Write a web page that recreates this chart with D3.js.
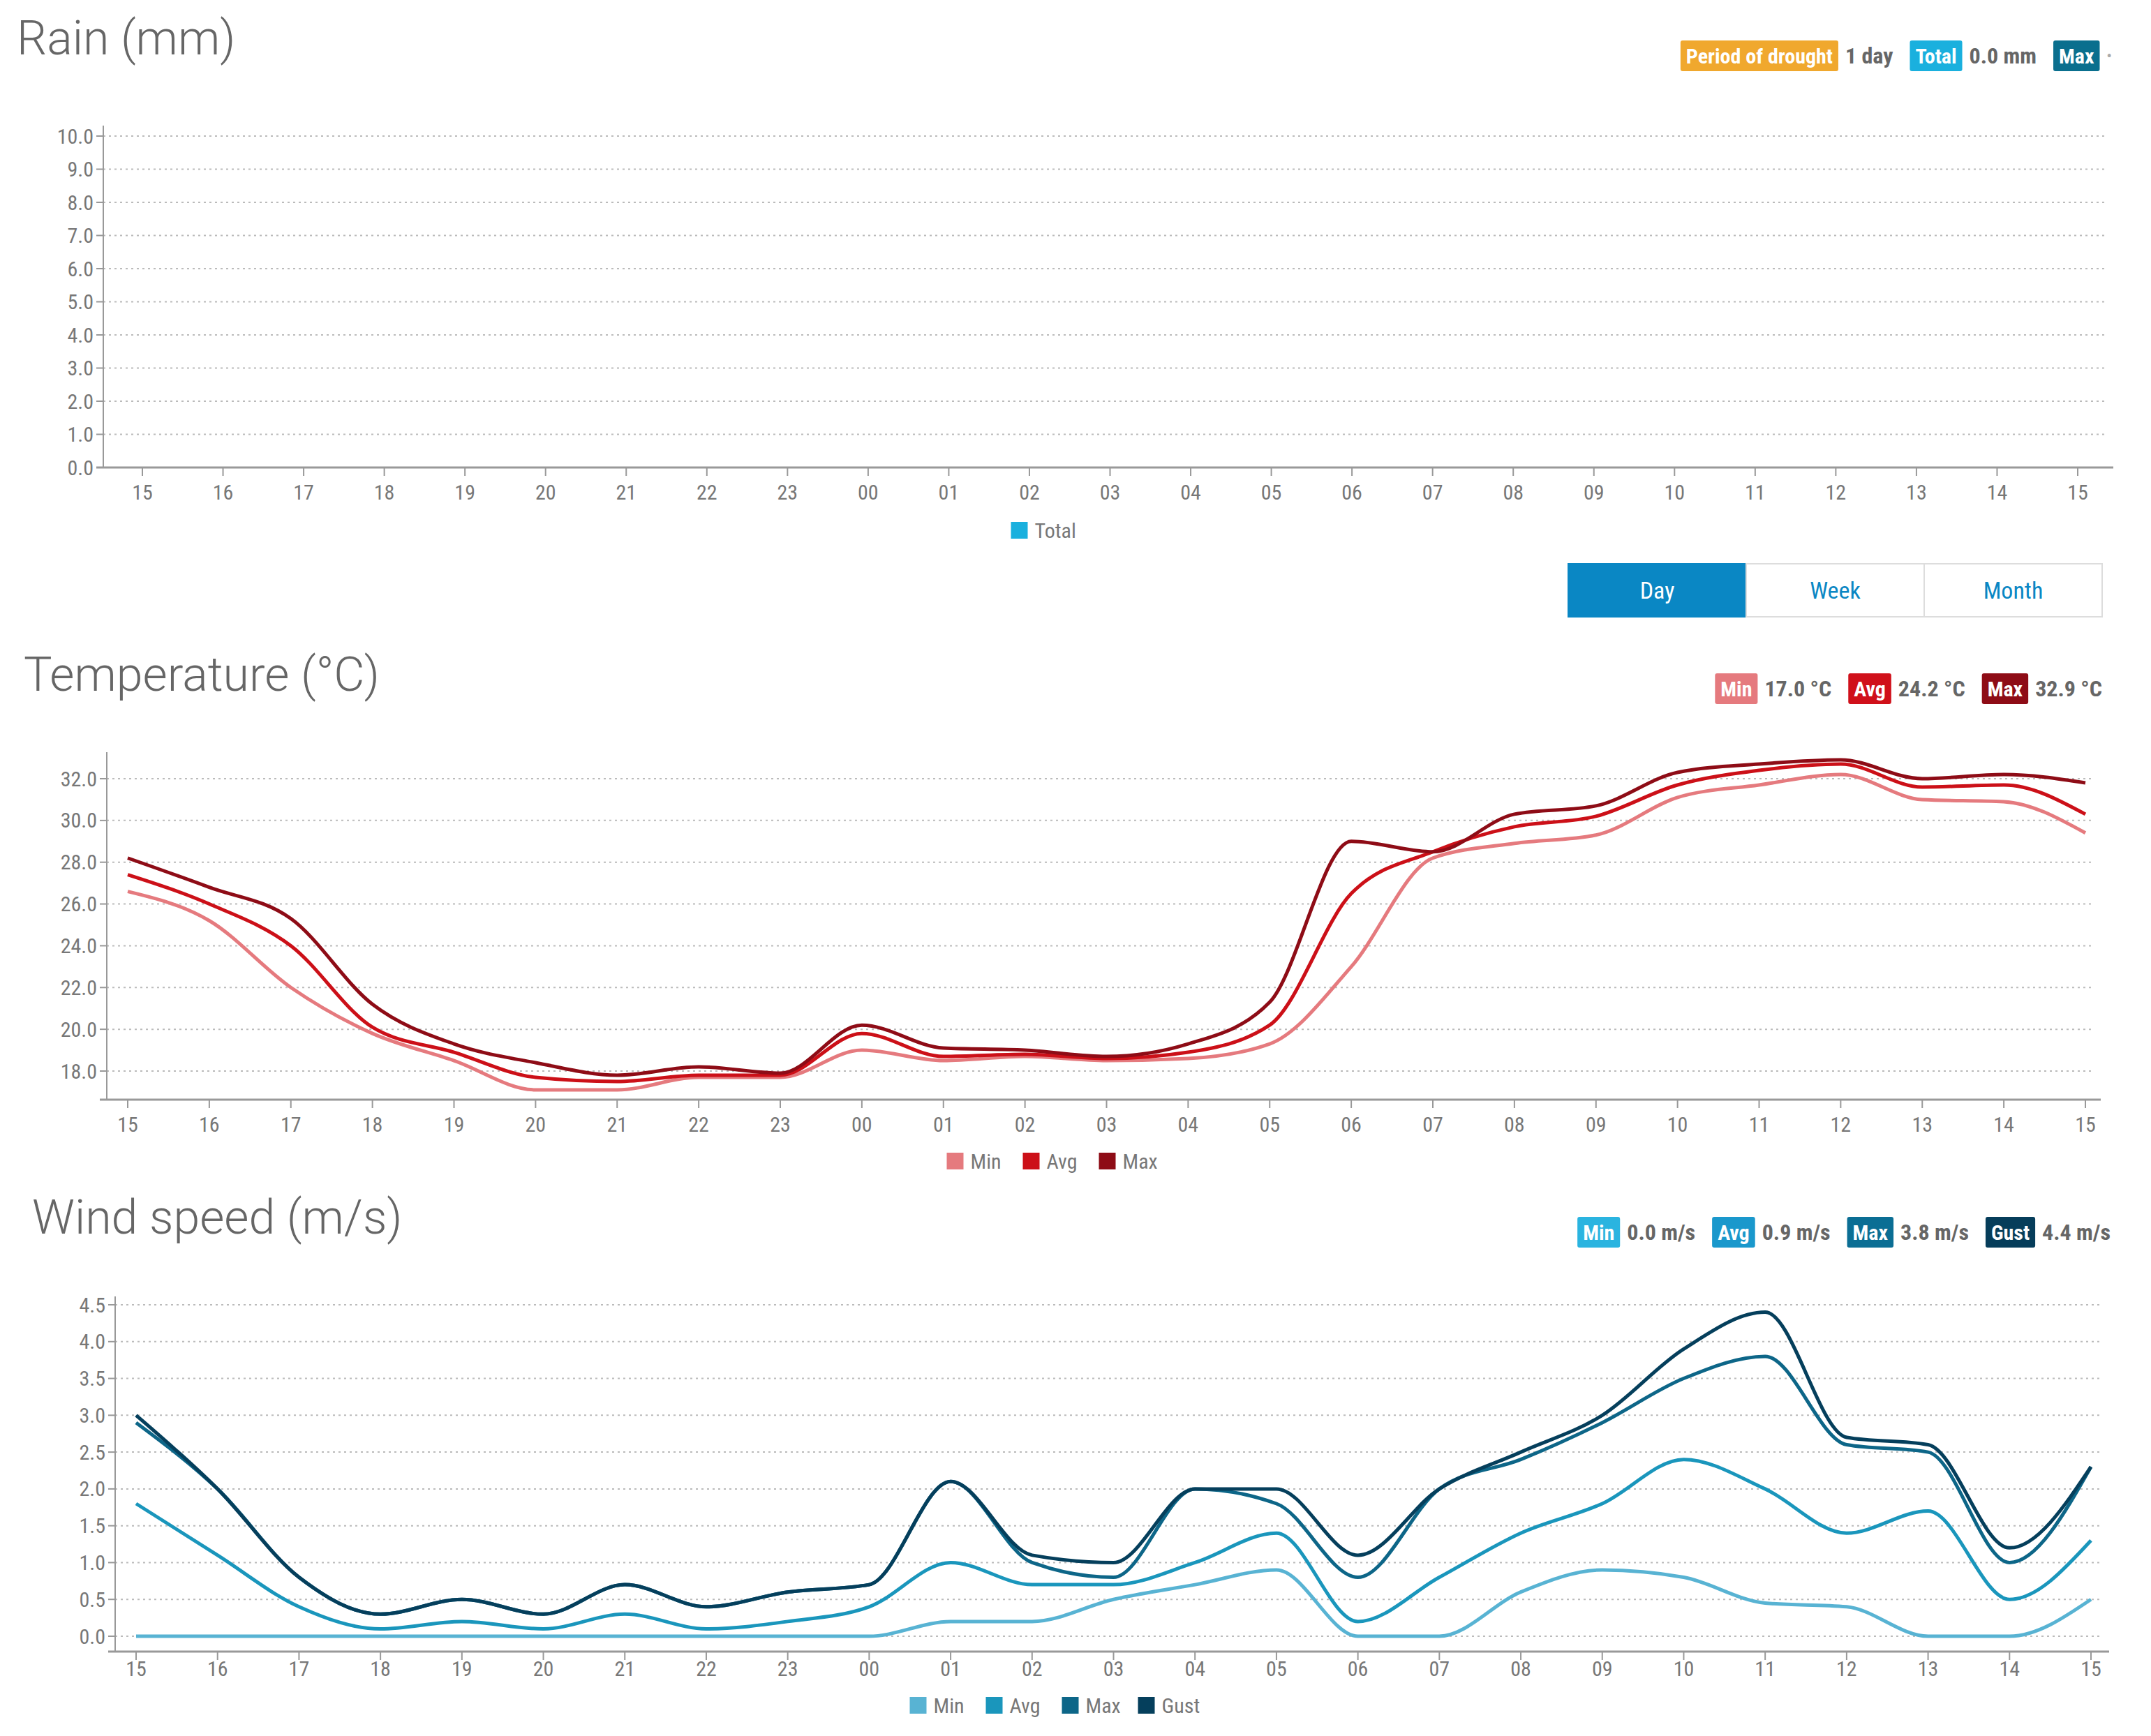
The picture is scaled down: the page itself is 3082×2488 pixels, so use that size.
<!DOCTYPE html>
<html><head><meta charset="utf-8">
<script src="https://cdn.jsdelivr.net/npm/d3@7"></script>
<style>
body{margin:0;background:#fff;}
text{font-family:"Liberation Sans Narrow","Roboto Condensed",Roboto,sans-serif;}
.title{font-family:Roboto,sans-serif;font-weight:300;fill:#666;font-size:68px;}
</style></head><body>
<svg id="chart" width="3082" height="2488"></svg>
<script>
// hours along the x axis (15:00 to 15:00 next day)
const hours = ["15","16","17","18","19","20","21","22","23","00","01","02","03","04","05","06","07","08","09","10","11","12","13","14","15"];

const rainTicks = [0,1,2,3,4,5,6,7,8,9,10];
const tempTicks = [18,20,22,24,26,28,30,32];
const windTicks = [0,0.5,1,1.5,2,2.5,3,3.5,4,4.5];

const tempMax = [28.2,26.8,25.3,21.2,19.3,18.4,17.8,18.2,17.9,20.2,19.1,19.0,18.7,19.3,21.3,29.0,28.5,30.3,30.7,32.3,32.7,32.9,32.0,32.2,31.8];
const tempAvg = [27.4,26.0,24.0,20.1,18.9,17.7,17.5,17.8,17.8,19.8,18.7,18.8,18.6,18.9,20.2,26.5,28.5,29.7,30.2,31.7,32.4,32.7,31.6,31.7,30.3];
const tempMin = [26.6,25.2,22.0,19.8,18.5,17.1,17.1,17.7,17.7,19.0,18.5,18.7,18.5,18.6,19.3,23.0,28.2,28.9,29.3,31.1,31.7,32.2,31.0,30.9,29.4];

const windGust = [3.0,2.0,0.8,0.3,0.5,0.3,0.7,0.4,0.6,0.7,2.1,1.1,1.0,2.0,2.0,1.1,2.0,2.5,3.0,3.9,4.4,2.7,2.6,1.2,2.3];
const windMax  = [2.9,2.0,0.8,0.3,0.5,0.3,0.7,0.4,0.6,0.7,2.1,1.0,0.8,2.0,1.8,0.8,2.0,2.4,2.9,3.5,3.8,2.6,2.5,1.0,2.3];
const windAvg  = [1.8,1.1,0.4,0.1,0.2,0.1,0.3,0.1,0.2,0.4,1.0,0.7,0.7,1.0,1.4,0.2,0.8,1.4,1.8,2.4,2.0,1.4,1.7,0.5,1.3];
const windMin  = [0,0,0,0,0,0,0,0,0,0,0.2,0.2,0.5,0.7,0.9,0,0,0.6,0.9,0.8,0.45,0.4,0,0,0.5];

const svg = d3.select("#chart");

function panel(o) {
  const x = d3.scalePoint().domain(d3.range(hours.length)).range([o.x0, o.x1]);
  const y = d3.scaleLinear().domain(o.domain).range([o.yb, o.yt]);
  const g = svg.append("g");
  // grid
  g.selectAll(".grid").data(o.ticks).join("line")
    .attr("x1", o.axisX).attr("x2", o.gridEnd)
    .attr("y1", d => y(d)).attr("y2", d => y(d))
    .attr("stroke", "#bbb").attr("stroke-width", 2).attr("stroke-dasharray", "3,5");
  // y axis
  g.append("line").attr("x1", o.axisX).attr("x2", o.axisX)
    .attr("y1", o.axisTop).attr("y2", o.axisBottom).attr("stroke", "#999").attr("stroke-width", 2);
  g.selectAll(".yt").data(o.ticks).join("line")
    .attr("x1", o.axisX - 10).attr("x2", o.axisX).attr("y1", d => y(d)).attr("y2", d => y(d))
    .attr("stroke", "#999").attr("stroke-width", 2);
  g.selectAll(".yl").data(o.ticks).join("text")
    .attr("x", o.axisX - 14).attr("y", d => y(d)).attr("dy", "0.35em")
    .attr("text-anchor", "end").attr("font-size", 30).attr("fill", "#777")
    .text(d => d.toFixed(1));
  // x axis
  g.append("line").attr("x1", o.axisX - 10).attr("x2", o.gridEnd + 10)
    .attr("y1", o.axisBottom).attr("y2", o.axisBottom).attr("stroke", "#999").attr("stroke-width", 3);
  g.selectAll(".xt").data(d3.range(hours.length)).join("line")
    .attr("x1", d => x(d)).attr("x2", d => x(d))
    .attr("y1", o.axisBottom).attr("y2", o.axisBottom + 12).attr("stroke", "#999").attr("stroke-width", 2);
  g.selectAll(".xl").data(d3.range(hours.length)).join("text")
    .attr("x", d => x(d)).attr("y", o.labelY).attr("text-anchor", "middle")
    .attr("font-size", 30).attr("fill", "#777").text(d => hours[d]);
  // lines
  const line = d3.line().x((d, i) => x(i)).y(d => y(d)).curve(d3.curveMonotoneX);
  o.series.forEach(s => {
    g.append("path").datum(s.values).attr("d", line)
      .attr("fill", "none").attr("stroke", s.color).attr("stroke-width", 5);
  });
  // legend
  const items = o.legend;
  const itemW = items.map(s => 34 + s.name.length * 17 + 24);
  let lx = o.legendCx - d3.sum(itemW) / 2;
  items.forEach((s, i) => {
    g.append("rect").attr("x", lx).attr("y", o.legendY - 12).attr("width", 24).attr("height", 24).attr("fill", s.color);
    g.append("text").attr("x", lx + 34).attr("y", o.legendY).attr("dy", "0.35em")
      .attr("font-size", 30).attr("fill", "#777").text(s.name);
    lx += itemW[i];
  });
  // title
  svg.append("text").attr("class", "title").attr("x", o.titleX).attr("y", o.titleY).text(o.title);
  // badges, right aligned
  let bx = o.badgeRight;
  o.badges.slice().reverse().forEach(b => {
    const bg = svg.append("g");
    const vt = bg.append("text").attr("y", o.badgeY).attr("dy", "0.35em")
      .attr("font-size", 32).attr("font-weight", "bold").attr("fill", "#666").text(b.value || "•");
    const vw = vt.node().getComputedTextLength();
    vt.attr("x", bx - vw);
    if (!b.value) vt.attr("fill", "#aaa").attr("font-size", 20);
    bx -= vw + 10;
    const rect = bg.append("rect").attr("y", o.badgeY - 22).attr("height", 44).attr("rx", 3).attr("fill", b.color);
    const lt = bg.append("text").attr("y", o.badgeY).attr("dy", "0.35em").attr("text-anchor", "middle")
      .attr("font-size", 30).attr("font-weight", "bold").attr("fill", "#fff").text(b.label);
    const lw = lt.node().getComputedTextLength() + 16;
    rect.attr("x", bx - lw).attr("width", lw);
    lt.attr("x", bx - lw / 2);
    bx -= lw + 24;
  });
}

// Rain
panel({
  title: "Rain (mm)", titleX: 24, titleY: 78,
  x0: 204, x1: 2977, domain: [0, 10], yb: 670, yt: 195, ticks: rainTicks,
  axisX: 148, gridEnd: 3018, axisTop: 180, axisBottom: 670, labelY: 716, legendY: 760, legendCx: 1520,
  series: [], legend: [{name: "Total", color: "#1ab0de"}],
  badgeY: 80, badgeRight: 3030,
  badges: [
    {label: "Period of drought", value: "1 day", color: "#f0a82e"},
    {label: "Total", value: "0.0 mm", color: "#1ab0de"},
    {label: "Max", value: "", color: "#0a6f8e"}
  ]
});

// Day / Week / Month buttons
const btns = ["Day", "Week", "Month"];
const bScale = d3.scaleBand().domain(btns).range([2247, 3012]);
btns.forEach((b, i) => {
  svg.append("rect").attr("x", bScale(b)).attr("y", 808).attr("width", bScale.bandwidth()).attr("height", 76)
    .attr("fill", i === 0 ? "#0a87c4" : "#fff").attr("stroke", i === 0 ? "#0a87c4" : "#ddd").attr("stroke-width", 2);
  svg.append("text").attr("x", bScale(b) + bScale.bandwidth() / 2).attr("y", 846).attr("dy", "0.35em")
    .attr("text-anchor", "middle").attr("font-family", "Roboto").attr("font-size", 34)
    .attr("fill", i === 0 ? "#fff" : "#0a87c4").text(b);
});

// Temperature
panel({
  title: "Temperature (°C)", titleX: 34, titleY: 990,
  x0: 183, x1: 2988, domain: [18, 32], yb: 1535, yt: 1116, ticks: tempTicks,
  axisX: 153, gridEnd: 3000, axisTop: 1078, axisBottom: 1576, labelY: 1622, legendY: 1664, legendCx: 1520,
  series: [
    {name: "Min", values: tempMin, color: "#e57a7e"},
    {name: "Avg", values: tempAvg, color: "#cc1018"},
    {name: "Max", values: tempMax, color: "#8e0c16"}
  ],
  legend: [{name: "Min", color: "#e57a7e"}, {name: "Avg", color: "#cc1018"}, {name: "Max", color: "#8e0c16"}],
  badgeY: 987, badgeRight: 3012,
  badges: [
    {label: "Min", value: "17.0 °C", color: "#e57a7e"},
    {label: "Avg", value: "24.2 °C", color: "#d0101a"},
    {label: "Max", value: "32.9 °C", color: "#8e0c16"}
  ]
});

// Wind
panel({
  title: "Wind speed (m/s)", titleX: 46, titleY: 1768,
  x0: 195, x1: 2996, domain: [0, 4.5], yb: 2345, yt: 1870, ticks: windTicks,
  axisX: 165, gridEnd: 3012, axisTop: 1858, axisBottom: 2367, labelY: 2402, legendY: 2444, legendCx: 1530,
  series: [
    {name: "Min", values: windMin, color: "#58b3d3"},
    {name: "Avg", values: windAvg, color: "#1a96bc"},
    {name: "Max", values: windMax, color: "#0d6688"},
    {name: "Gust", values: windGust, color: "#053f5c"}
  ],
  legend: [{name: "Min", color: "#58b3d3"}, {name: "Avg", color: "#1a96bc"}, {name: "Max", color: "#0d6688"}, {name: "Gust", color: "#053f5c"}],
  badgeY: 1766, badgeRight: 3024,
  badges: [
    {label: "Min", value: "0.0 m/s", color: "#2ab4e0"},
    {label: "Avg", value: "0.9 m/s", color: "#1a98cc"},
    {label: "Max", value: "3.8 m/s", color: "#0b6e94"},
    {label: "Gust", value: "4.4 m/s", color: "#063d5a"}
  ]
});
</script>
</body></html>
